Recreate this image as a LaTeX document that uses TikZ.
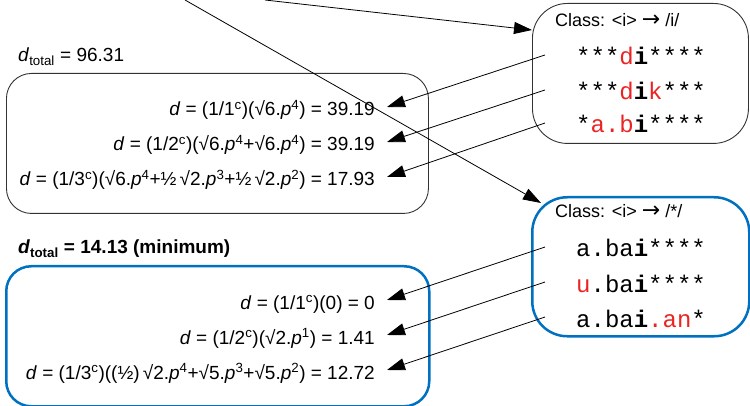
\documentclass[tikz,border=0pt]{standalone}
\usepackage{fontspec}
\setmainfont{Liberation Sans}
\setmonofont{Liberation Mono}
\newfontfamily\symfont{DejaVu Sans}
\usetikzlibrary{arrows.meta}
\definecolor{boxblue}{RGB}{0,112,192}
\definecolor{hired}{RGB}{235,35,35}
\newcommand{\hl}[1]{\textcolor{hired}{#1}}
\newcommand{\bi}{\textbf{i}}
\newcommand{\sps}[1]{\textsuperscript{#1}}
\newcommand{\rarr}{{\symfont\fontsize{22}{22}\selectfont →}}
\tikzset{
 eq/.style={anchor=base east, inner sep=0pt, font=\fontsize{19}{22}\selectfont},
 lbl/.style={anchor=base west, inner sep=0pt, font=\fontsize{19}{22}\selectfont},
 ttl/.style={anchor=base west, inner sep=0pt, font=\fontsize{18}{22}\selectfont},
 row/.style={anchor=base west, inner sep=0pt, font=\fontsize{24}{28}\selectfont\ttfamily},
 arr/.style={-{Triangle[length=18pt,width=12pt]}, line width=0.8pt},
 plainbox/.style={draw=black!80, line width=0.9pt, rounded corners=25pt, inner sep=0pt, anchor=north west},
 bluebox/.style={draw=boxblue, line width=2.5pt, rounded corners=25pt, inner sep=0pt, anchor=north west},
 classbox/.style={rounded corners=35pt},
}
\begin{document}
\begin{tikzpicture}[x=1pt,y=-1pt]
\useasboundingbox (0,0) rectangle (750,406);
% boxes
\node[plainbox, minimum width=422pt, minimum height=140pt] (lbox) at (6,73) {};
\node[bluebox, minimum width=423pt, minimum height=140pt] (bbox) at (5,265) {};
\node[plainbox, classbox, minimum width=216pt, minimum height=140pt] (cbox1) at (532,3) {};
\node[bluebox, classbox, minimum width=217pt, minimum height=139pt] (cbox2) at (531,196) {};
% totals
\node[lbl] (tot1) at (18,62) {\textit{d}\textsubscript{total} = 96.31};
\node[lbl] (tot2) at (18,254) {\bfseries\textit{d}\textsubscript{total} = 14.13 (minimum)};
% equations top
\node[eq] (e1) at (375,116) {\textit{d} = (1/1\sps{c})(√6.\textit{p}\sps{4}) = 39.19};
\node[eq] (e2) at (375,151) {\textit{d} = (1/2\sps{c})(√6.\textit{p}\sps{4}+√6.\textit{p}\sps{4}) = 39.19};
\node[eq] (e3) at (375,186) {\textit{d} = (1/3\sps{c})(√6.\textit{p}\sps{4}+½\,√2.\textit{p}\sps{3}+½\,√2.\textit{p}\sps{2}) = 17.93};
% equations bottom
\node[eq] (f1) at (375,309) {\textit{d} = (1/1\sps{c})(0) = 0};
\node[eq] (f2) at (375,344) {\textit{d} = (1/2\sps{c})(√2.\textit{p}\sps{1}) = 1.41};
\node[eq] (f3) at (375,379) {\textit{d} = (1/3\sps{c})((½)\,√2.\textit{p}\sps{4}+√5.\textit{p}\sps{3}+√5.\textit{p}\sps{2}) = 12.72};
% class box 1
\node[ttl] (c1t) at (555,27) {Class: <i> \rarr{} /i/};
\node[row] (r1) at (576,65) {***\hl{d}\bi****};
\node[row] (r2) at (576,100) {***\hl{d}\bi\hl{k}***};
\node[row] (r3) at (576,133) {*\hl{a.b}\bi****};
% class box 2
\node[ttl] (c2t) at (555,218) {Class: <i> \rarr{} /*/};
\node[row] (q1) at (576,257) {a.ba\bi****};
\node[row] (q2) at (576,292) {\hl{u}.ba\bi****};
\node[row] (q3) at (576,327) {a.ba\bi\hl{.an}*};
% connectors
\foreach \s/\t in {r1/e1,r2/e2,r3/e3,q1/f1,q2/f2,q3/f3}
  \draw[arr] ([xshift=-31pt,yshift=10pt]\s.base west) -- ([xshift=12pt,yshift=9pt]\t.base east);
\coordinate (top1) at (265,0);
\coordinate (top2) at (185,0);
\draw[arr] (top1) -- ([yshift=-27pt]cbox1.north west);
\draw[arr] (top2) -- ([xshift=10pt,yshift=-7pt]cbox2.north west);
\end{tikzpicture}
\end{document}
